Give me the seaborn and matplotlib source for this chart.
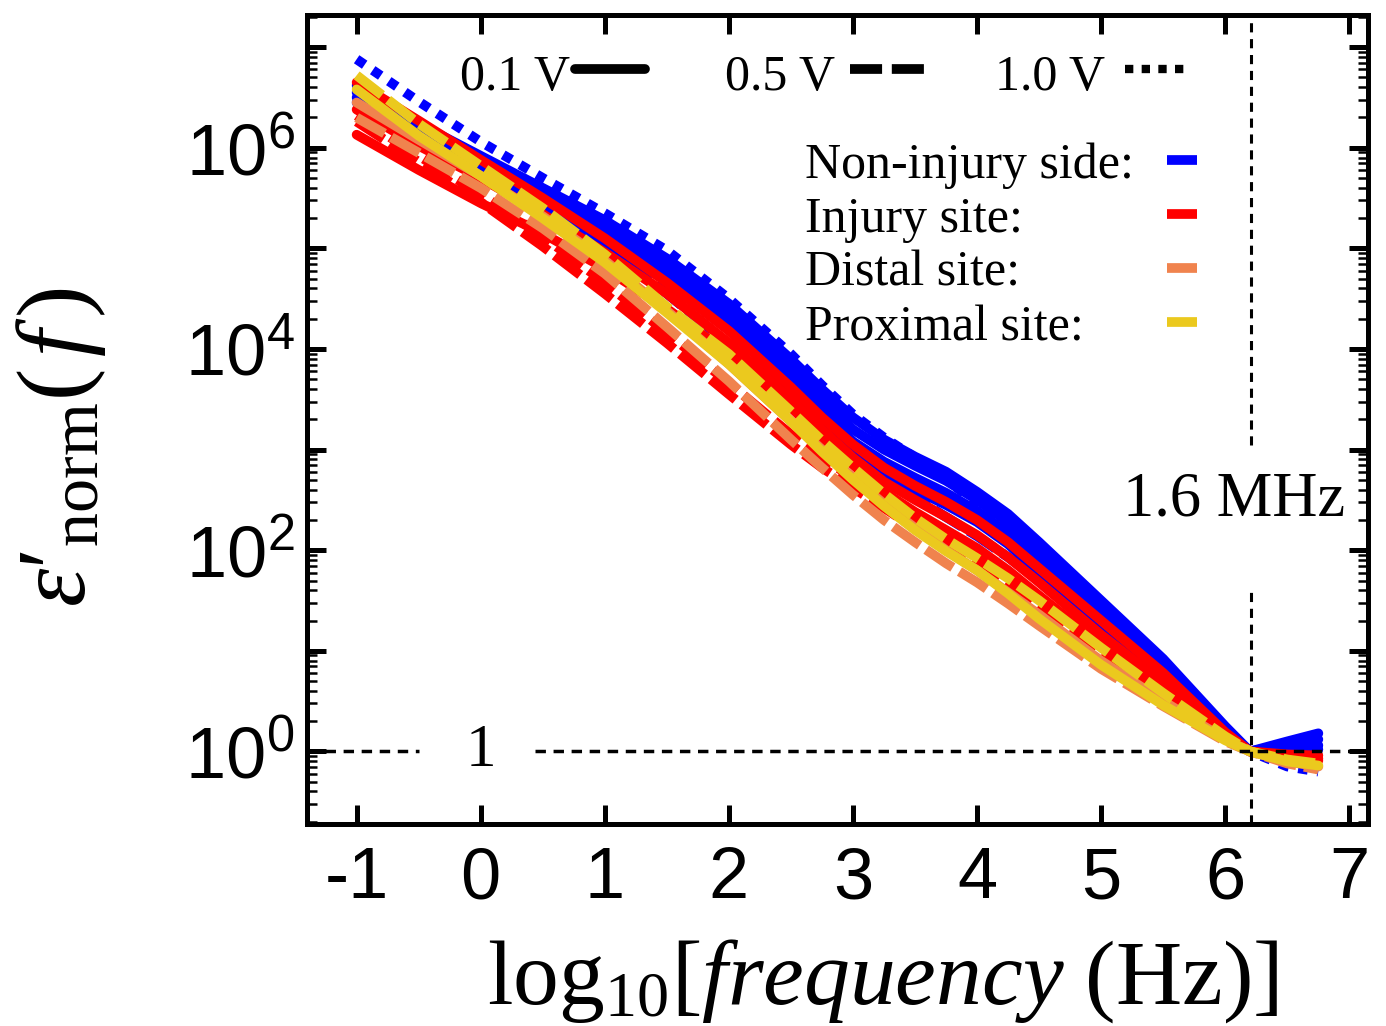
import numpy as np
import pandas as pd
import seaborn as sns
import matplotlib
matplotlib.use("Agg")
import matplotlib.pyplot as plt
from matplotlib.ticker import LogLocator, FuncFormatter, MultipleLocator, NullLocator

# x: log10 of frequency (Hz), y values below are log10 of eps'_norm
log_f = [-1, -0.5, 0, 0.5, 1, 1.5, 2, 2.5, 2.75, 3, 3.25, 3.5, 3.75, 4, 4.25, 4.5, 5, 5.5, 6, 6.2, 6.5, 6.75]

# Non-injury side (blue)
non_injury_01_a = [6.62, 6.24, 5.92, 5.60, 5.28, 4.90, 4.45, 3.90, 3.60, 3.32, 3.10, 2.93, 2.78, 2.58, 2.36, 2.08, 1.50, 0.92, 0.25, 0.00, 0.10, 0.18]
non_injury_01_b = [6.55, 6.18, 5.86, 5.53, 5.20, 4.82, 4.38, 3.82, 3.50, 3.20, 3.00, 2.84, 2.69, 2.50, 2.28, 2.00, 1.43, 0.85, 0.22, 0.00, 0.07, 0.12]
non_injury_01_c = [6.50, 6.12, 5.80, 5.46, 5.12, 4.75, 4.30, 3.72, 3.38, 3.08, 2.88, 2.72, 2.57, 2.39, 2.17, 1.89, 1.34, 0.78, 0.19, 0.00, 0.04, 0.06]
non_injury_01_d = [6.45, 6.06, 5.74, 5.38, 5.04, 4.68, 4.22, 3.62, 3.25, 2.95, 2.76, 2.60, 2.45, 2.28, 2.06, 1.78, 1.26, 0.72, 0.16, 0.00, 0.02, 0.02]
non_injury_05 = [6.60, 6.18, 5.80, 5.40, 5.00, 4.55, 4.05, 3.50, 3.22, 2.95, 2.72, 2.52, 2.33, 2.14, 1.93, 1.70, 1.20, 0.70, 0.16, 0.00, -0.06, -0.10]
non_injury_10 = [6.88, 6.46, 6.06, 5.70, 5.35, 4.98, 4.50, 3.95, 3.64, 3.35, 3.12, 2.92, 2.70, 2.47, 2.23, 1.97, 1.40, 0.85, 0.22, 0.00, -0.15, -0.20]

# Injury site (red)
injury_01_a = [6.65, 6.27, 5.88, 5.50, 5.10, 4.66, 4.18, 3.62, 3.32, 3.05, 2.82, 2.64, 2.48, 2.30, 2.08, 1.82, 1.30, 0.78, 0.19, 0.00, -0.03, -0.04]
injury_01_b = [6.38, 6.02, 5.70, 5.34, 4.96, 4.55, 4.06, 3.50, 3.20, 2.92, 2.68, 2.50, 2.33, 2.15, 1.93, 1.68, 1.16, 0.68, 0.16, 0.00, -0.05, -0.07]
injury_01_c = [6.13, 5.78, 5.45, 5.15, 4.80, 4.40, 3.95, 3.42, 3.12, 2.85, 2.58, 2.38, 2.20, 2.02, 1.80, 1.55, 1.06, 0.62, 0.15, 0.00, -0.06, -0.09]
injury_05_a = [6.26, 5.86, 5.46, 5.02, 4.55, 4.06, 3.55, 3.05, 2.82, 2.62, 2.42, 2.22, 2.03, 1.85, 1.66, 1.45, 1.00, 0.58, 0.14, 0.00, -0.07, -0.10]
injury_05_b = [6.32, 5.92, 5.54, 5.12, 4.66, 4.16, 3.66, 3.15, 2.92, 2.72, 2.52, 2.32, 2.13, 1.95, 1.75, 1.52, 1.06, 0.62, 0.15, 0.00, -0.06, -0.09]

# Distal site (orange)
distal_01 = [6.45, 6.08, 5.72, 5.32, 4.88, 4.38, 3.85, 3.28, 3.00, 2.72, 2.46, 2.22, 2.00, 1.80, 1.58, 1.36, 0.90, 0.50, 0.12, 0.00, -0.10, -0.15]
distal_05 = [6.30, 5.95, 5.60, 5.20, 4.75, 4.22, 3.68, 3.10, 2.82, 2.55, 2.30, 2.08, 1.87, 1.68, 1.47, 1.25, 0.82, 0.45, 0.10, 0.00, -0.12, -0.18]

# Proximal site (yellow)
proximal_01 = [6.58, 6.12, 5.72, 5.30, 4.86, 4.36, 3.85, 3.28, 2.98, 2.70, 2.44, 2.20, 1.99, 1.80, 1.57, 1.32, 0.86, 0.46, 0.11, 0.00, -0.10, -0.14]
proximal_05 = [6.72, 6.24, 5.82, 5.40, 4.94, 4.42, 3.95, 3.38, 3.09, 2.82, 2.56, 2.32, 2.11, 1.92, 1.72, 1.50, 1.03, 0.58, 0.15, 0.00, -0.08, -0.12]

sites = ["Non-injury side", "Injury site", "Distal site", "Proximal site"]
site_colors = {"Non-injury side": "#0000FF", "Injury site": "#FF0000",
               "Distal site": "#F0834E", "Proximal site": "#EBC91E"}
voltages = ["0.1 V", "0.5 V", "1.0 V"]
volt_dashes = {"0.1 V": "", "0.5 V": (3.3, 0.8), "1.0 V": (1, 1)}

curves = [
    ("Non-injury side", "0.1 V", "n1", non_injury_01_a),
    ("Non-injury side", "0.1 V", "n2", non_injury_01_b),
    ("Non-injury side", "0.1 V", "n3", non_injury_01_c),
    ("Non-injury side", "0.1 V", "n4", non_injury_01_d),
    ("Non-injury side", "0.5 V", "n5", non_injury_05),
    ("Non-injury side", "1.0 V", "n6", non_injury_10),
    ("Injury site", "0.1 V", "i1", injury_01_a),
    ("Injury site", "0.1 V", "i2", injury_01_b),
    ("Injury site", "0.1 V", "i3", injury_01_c),
    ("Injury site", "0.5 V", "i4", injury_05_a),
    ("Injury site", "0.5 V", "i5", injury_05_b),
    ("Distal site", "0.1 V", "d1", distal_01),
    ("Distal site", "0.5 V", "d2", distal_05),
    ("Proximal site", "0.1 V", "p1", proximal_01),
    ("Proximal site", "0.5 V", "p2", proximal_05),
]

rows = []
for site, volt, unit, vals in curves:
    for x, v in zip(log_f, vals):
        rows.append((site, volt, unit, x, 10 ** v))
df = pd.DataFrame(rows, columns=["site", "voltage", "unit", "logf", "eps"])

sns.set_style("ticks")
plt.rcParams["font.family"] = ["Liberation Sans", "DejaVu Sans"]
plt.rcParams["mathtext.fontset"] = "custom"
plt.rcParams["mathtext.rm"] = "Liberation Serif"
plt.rcParams["mathtext.it"] = "Liberation Serif:italic"
plt.rcParams["mathtext.bf"] = "Liberation Serif:bold"
plt.rcParams["axes.unicode_minus"] = False
for key in ["text.color", "axes.labelcolor", "xtick.color", "ytick.color", "axes.edgecolor"]:
    plt.rcParams[key] = "black"

fig = plt.figure(figsize=(13.86, 10.26), dpi=100)
ax = fig.add_axes([0.2215, 0.197, 0.7655, 0.7884])

sns.lineplot(data=df, x="logf", y="eps", hue="site", style="voltage", units="unit",
             estimator=None, hue_order=sites, style_order=voltages,
             palette=site_colors, dashes=volt_dashes, lw=7, legend=False, ax=ax)

ax.set_yscale("log")
ax.set_xlim(-1.4, 7.15)
ax.set_ylim(10 ** -0.72, 10 ** 7.32)

ax.xaxis.set_major_locator(MultipleLocator(1))
ax.xaxis.set_minor_locator(NullLocator())
ax.yaxis.set_major_locator(LogLocator(base=10, numticks=30))
ax.yaxis.set_minor_locator(LogLocator(base=10, subs=np.arange(2, 10), numticks=30))


def even_powers(v, pos):
    e = int(round(np.log10(v)))
    return f"$\\mathdefault{{10^{{{e}}}}}$" if e % 2 == 0 else ""


ax.yaxis.set_major_formatter(FuncFormatter(even_powers))
ax.tick_params(axis="both", which="major", direction="in", length=14, width=3.6,
               top=True, right=True, labelsize=52, color="black", labelcolor="black")
ax.tick_params(axis="x", pad=16)
ax.tick_params(axis="y", pad=9)
ax.tick_params(axis="y", which="minor", direction="in", length=7, width=1.8,
               left=True, right=True, color="black")
for s in ax.spines.values():
    s.set_linewidth(3.6)
    s.set_color("black")

ax.set_xlabel(r"$\mathrm{log}_{10}[\mathit{frequency}\ \mathrm{(Hz)}]$", fontsize=66)
ax.set_ylabel(r"$\varepsilon\prime_{\mathrm{norm}}(\,\mathit{f}\,)$", fontsize=70)
ax.xaxis.set_label_coords(0.543, -0.14)
ax.yaxis.set_label_coords(-0.188, 0.466)

# reference lines: eps' = 1 and 1.6 MHz
f16 = np.log10(1.6e6)
ax.hlines([1, 1], [-1.4, 0.44], [-0.5, 7.15], color="black", lw=2.5,
          linestyles=[(0, (3, 2.2))], zorder=5)
ax.vlines([f16, f16], [10 ** -0.72, 10 ** 3.05], [10 ** 1.6, 10 ** 7.32], color="black",
          lw=2.2, linestyles=[(0, (3, 2.2))], zorder=5)
ax.text(0, 1, "1", ha="center", va="center", fontsize=44, family="Liberation Serif", zorder=6)
ax.text(0.978, 0.40, "1.6 MHz", ha="right", va="center", fontsize=45,
        family="Liberation Serif", transform=ax.transAxes)

# voltage legend
serif = "Liberation Serif"
ax.text(0.144, 0.907, "0.1 V", fontsize=36, family=serif, transform=ax.transAxes)
ax.plot([0.253, 0.319], [0.933, 0.933], color="black", lw=7, transform=ax.transAxes)
ax.text(0.394, 0.907, "0.5 V", fontsize=36, family=serif, transform=ax.transAxes)
ax.plot([0.512, 0.582], [0.933, 0.933], color="black", lw=7, dashes=(3.3, 1.0),
        transform=ax.transAxes)
ax.text(0.648, 0.907, "1.0 V", fontsize=36, family=serif, transform=ax.transAxes)
ax.plot([0.771, 0.832], [0.933, 0.933], color="black", lw=6, dashes=(1, 1),
        transform=ax.transAxes)

# site legend
site_text_y = [0.7985, 0.732, 0.665, 0.598]
for site, ty in zip(sites, site_text_y):
    ax.text(0.469, ty, site + ":", fontsize=36, family=serif, transform=ax.transAxes)
    ax.plot([0.811, 0.839], [ty + 0.022, ty + 0.022], color=site_colors[site], lw=7,
            solid_capstyle="butt", transform=ax.transAxes)

fig.savefig("out.png", dpi=100)
